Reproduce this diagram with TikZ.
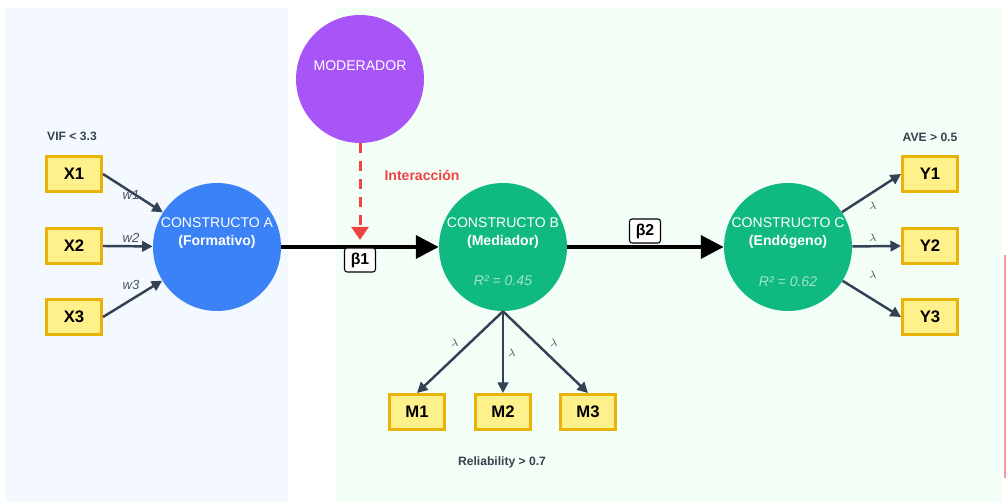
\documentclass[tikz,border=0pt]{standalone}
\usepackage{fontspec}
\setmainfont{Liberation Sans}
\usetikzlibrary{arrows.meta}

\definecolor{leftbg}{HTML}{F4F9FF}
\definecolor{rightbg}{HTML}{F3FEF6}
\definecolor{consA}{HTML}{3B82F6}
\definecolor{consB}{HTML}{10B981}
\definecolor{moder}{HTML}{A855F7}
\definecolor{inter}{HTML}{EF4444}
\definecolor{indfill}{HTML}{FEF08A}
\definecolor{inddraw}{HTML}{EAB308}
\definecolor{slate}{HTML}{334155}
\definecolor{note}{HTML}{374151}
\definecolor{wgray}{HTML}{4B5563}

\tikzset{
  construct/.style={circle, minimum size=2.56cm, inner sep=0pt},
  ctitle/.style={text=white, align=center, font=\fontsize{8}{10}\selectfont},
  rsq/.style={text=white, text opacity=0.6, font=\fontsize{8}{10}\selectfont\itshape},
  indicator/.style={draw=inddraw, fill=indfill, line width=1.7pt, minimum width=1.1cm,
    minimum height=0.7cm, inner sep=0pt, font=\fontsize{9.5}{11}\selectfont\bfseries},
  crit/.style={text=note, font=\fontsize{6.9}{8}\selectfont\bfseries},
  weight/.style={text=wgray, font=\fontsize{7.5}{9}\selectfont\itshape},
  load/.style={text=wgray, font=\fontsize{6}{7}\selectfont\itshape},
  beta/.style={draw=black, fill=white, rounded corners=1.5pt, line width=0.6pt,
    inner sep=2pt, minimum width=0.62cm, minimum height=0.48cm, font=\fontsize{9}{10}\selectfont\bfseries},
  path/.style={line width=2.3pt, -{Triangle[length=13pt,width=13pt]}},
  meas/.style={draw=slate, line width=1.4pt, -{Triangle[length=6pt,width=6pt]}}
}

\begin{document}
\begin{tikzpicture}[x=0.02cm,y=-0.02cm]
	\useasboundingbox (0,0) rectangle (1006,502);
	% panels
	\fill[leftbg] (5,8) rectangle (288,502);
	\fill[rightbg] (336,8) rectangle (1002,502);
	\fill[inter!55] (1004,255) rectangle (1006,478);

	% constructs
	\node[construct, fill=moder] (mod) at (360,79) {};
	\node[construct, fill=consA] (A) at (217,247) {};
	\node[construct, fill=consB] (B) at (503,247) {};
	\node[construct, fill=consB] (C) at (788,247) {};

	\node[ctitle] (modtxt) at (360,66) {MODERADOR};
	\node[ctitle] (Atxt) at (217,233) {CONSTRUCTO A\\\textbf{(Formativo)}};
	\node[ctitle] (Btxt) at (503,233) {CONSTRUCTO B\\\textbf{(Mediador)}};
	\node[ctitle] (Ctxt) at (788,233) {CONSTRUCTO C\\\textbf{(Endógeno)}};
	\node[rsq] (Brsq) at (503,281) {R² = 0.45};
	\node[rsq] (Crsq) at (788,282) {R² = 0.62};

	% indicators
	\node[indicator] (X1) at (74,174) {X1};
	\node[indicator] (X2) at (74,246) {X2};
	\node[indicator] (X3) at (74,317) {X3};
	\node[indicator] (Y1) at (930,174) {Y1};
	\node[indicator] (Y2) at (930,246) {Y2};
	\node[indicator] (Y3) at (930,317) {Y3};
	\node[indicator] (M1) at (417,412) {M1};
	\node[indicator] (M2) at (503,412) {M2};
	\node[indicator] (M3) at (588,412) {M3};

	\node[crit] (vif) at (72,136) {VIF < 3.3};
	\node[crit] (ave) at (930,137) {AVE > 0.5};
	\node[crit] (rel) at (502,462) {Reliability > 0.7};

	% formative weights
	\draw[meas] (X1.east) -- (A);
	\draw[meas] (X2.east) -- (A);
	\draw[meas] (X3.east) -- (A);
	\node[weight] (w1) at (131,195) {w1};
	\node[weight] (w2) at (131,238) {w2};
	\node[weight] (w3) at (131,285) {w3};

	% reflective loadings
	\draw[meas] (B.south) -- (M1.north);
	\draw[meas] (B.south) -- (M2.north);
	\draw[meas] (B.south) -- (M3.north);
	\draw[meas] (C) -- (Y1.west);
	\draw[meas] (C) -- (Y2.west);
	\draw[meas] (C) -- (Y3.west);
	\node[load] (l1) at (455,343) {$\lambda$};
	\node[load] (l2) at (512,353) {$\lambda$};
	\node[load] (l3) at (554,343) {$\lambda$};
	\node[load] (l4) at (873,206) {$\lambda$};
	\node[load] (l5) at (873,238) {$\lambda$};
	\node[load] (l6) at (873,275) {$\lambda$};

	% structural paths
	\draw[path] (A) -- (B);
	\draw[path] (B) -- (C);
	\node[beta] (b1) at (360,260) {β1};
	\node[beta] (b2) at (645,231) {β2};

	% interaction
	\coordinate (hit) at (360,240);
	\draw[inter, line width=1.7pt, dash pattern=on 5.7pt off 4.5pt,
	  -{Triangle[length=7.4pt,width=9.6pt]}] (mod.south) -- (hit);
	\node[text=inter, font=\fontsize{8}{10}\selectfont\bfseries] (intlbl) at (422,175) {Interacción};
\end{tikzpicture}
\end{document}
